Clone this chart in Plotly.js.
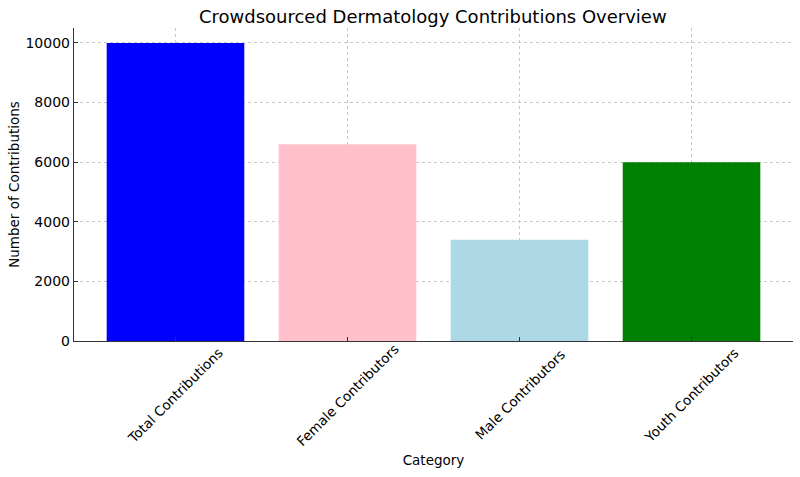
<!DOCTYPE html>
<html>
<head>
<meta charset="utf-8">
<script src="https://cdn.plot.ly/plotly-3.0.1.min.js"></script>
<style>
  html, body { margin: 0; padding: 0; background: #fff; }
  #chart { width: 800px; height: 477px; }
</style>
</head>
<body>
<div id="chart"></div>
<script>
// Data
const categories = ['Total Contributions', 'Female Contributors', 'Male Contributors', 'Youth Contributors'];
const counts = [10000, 6600, 3400, 6000];
const barColors = ['blue', 'pink', 'lightblue', 'green'];
const yTicks = [0, 2000, 4000, 6000, 8000, 10000];

const font = 'DejaVu Sans, sans-serif';

const trace = {
    x: categories,
    y: counts,
    type: 'bar',
    width: 0.8,
    marker: { color: barColors, line: { width: 0 } },
    hoverinfo: 'x+y'
};

// rotated category labels, centred under each tick like matplotlib
const labelNotes = categories.map(c => ({
    x: c, xref: 'x',
    y: 0, yref: 'paper',
    yshift: -54,
    text: c,
    textangle: -45,
    showarrow: false,
    xanchor: 'center', yanchor: 'middle',
    font: { family: font, size: 13.5, color: '#000' }
}));

const layout = {
    width: 800,
    height: 477,
    paper_bgcolor: '#fff',
    plot_bgcolor: '#fff',
    margin: { l: 74, r: 7, t: 28, b: 136 },
    bargap: 0.2,
    title: {
        text: 'Crowdsourced Dermatology Contributions Overview',
        font: { family: font, size: 18, color: '#000' },
        x: 0.541, xanchor: 'center',
        y: 0.965, yanchor: 'middle'
    },
    xaxis: {
        title: { text: 'Category', font: { family: font, size: 13.5, color: '#000' }, standoff: 114 },
        range: [-0.59, 3.59],
        showticklabels: false,
        ticks: 'inside', ticklen: 4, tickcolor: '#333',
        showgrid: true, gridcolor: '#c8c8c8', griddash: 'dot', gridwidth: 1,
        showline: true, linecolor: '#333', linewidth: 1.2,
        zeroline: false
    },
    yaxis: {
        title: { text: 'Number of Contributions', font: { family: font, size: 13.5, color: '#000' }, standoff: 2 },
        range: [0, 10500],
        tickvals: yTicks,
        ticktext: yTicks.map(String),
        ticks: 'inside', ticklen: 4, tickcolor: '#333',
        tickfont: { family: font, size: 14, color: '#000' },
        showgrid: true, gridcolor: '#c8c8c8', griddash: 'dot', gridwidth: 1,
        showline: true, linecolor: '#333', linewidth: 1.2,
        zeroline: false
    },
    annotations: labelNotes,
    showlegend: false
};

Plotly.newPlot('chart', [trace], layout, { displayModeBar: false, staticPlot: true });
</script>
</body>
</html>
